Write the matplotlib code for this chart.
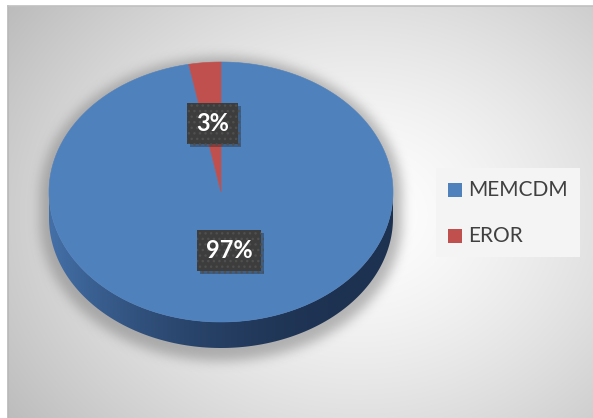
import numpy as np
import matplotlib.pyplot as plt
from matplotlib.colors import to_rgb
from matplotlib.patches import Polygon, Rectangle
import matplotlib.patheffects as pe

labels = ['MEMCDM', 'EROR']
values = [97, 3]
colors = ['#4F81BD', '#C0504D']
side_light = ['#4470A8', '#A34440']
side_dark = ['#1D3150', '#5E2422']

W, H = 593, 418
cx, cy, rx, ry, depth = 221, 192, 172, 130, 26

plt.rcParams['font.family'] = ['Lato', 'DejaVu Sans']

fig = plt.figure(figsize=(W / 100, H / 100), dpi=100)
ax = fig.add_axes([0, 0, 1, 1])
ax.set_xlim(0, W)
ax.set_ylim(H, 0)
ax.axis('off')

# radial grey background of the chart area
x0, y0 = 8, 6
yy, xx = np.mgrid[y0:H, x0:W] + 0.5
d = np.sqrt(((xx - 360) / 330) ** 2 + ((yy - 215) / 270) ** 2)
g = (255 - 46 * np.clip(d, 0, 1.5) ** 1.4) / 255
bg = np.dstack([g, g, g])
ax.imshow(bg, extent=[x0, W, H, y0], zorder=0, interpolation='bilinear')
ax.plot([x0, x0], [y0, H], color='#b8b8b8', lw=1.2, zorder=1)
ax.plot([x0, W], [y0, y0], color='#c0c0c0', lw=1.2, zorder=1)

# soft shadow under the cylinder
grow = 9
u = np.clip((xx - cx) / (rx + grow), -1, 1)
half = (ry + grow) * np.sqrt(1 - u ** 2)
inside = (np.abs(xx - cx) <= rx + grow) & (yy >= cy - half) & (yy <= cy + half + depth)
a = inside.astype(float)
k = np.ones(11) / 11
for _ in range(3):
    a = np.apply_along_axis(lambda v: np.convolve(v, k, mode='same'), 0, a)
    a = np.apply_along_axis(lambda v: np.convolve(v, k, mode='same'), 1, a)
shadow = np.zeros(a.shape + (4,))
shadow[..., :3] = 0.5
shadow[..., 3] = 0.55 * a
ax.imshow(shadow, extent=[x0, W, H + 4, y0 + 4], zorder=2, interpolation='bilinear')


def pt(t):
    t = np.radians(t)
    return cx + rx * np.sin(t), cy - ry * np.cos(t)


# slice angles, clockwise from 12 o'clock
fr = np.array(values, float) / sum(values)
ends = np.cumsum(fr) * 360
starts = ends - fr * 360

# front wall of the disc: horizontal shading clipped to each slice's wall
for i in range(len(values)):
    lo, hi = max(starts[i], 90), min(ends[i], 270)
    if hi <= lo:
        continue
    ts = np.linspace(lo, hi, 200)
    xs, ys = pt(ts)
    wall = list(zip(xs, ys)) + list(zip(xs[::-1], ys[::-1] + depth))
    clip = Polygon(wall, closed=True, fc='none', ec='none')
    ax.add_patch(clip)
    gx = np.linspace(cx - rx, cx + rx, 400)
    f = np.clip(0.5 - 0.5 * (gx - cx) / rx, 0, 1) ** 2.2
    c1, c2 = np.array(to_rgb(side_light[i])), np.array(to_rgb(side_dark[i]))
    strip = (c2[None, :] + (c1 - c2)[None, :] * f[:, None])[None, :, :]
    im = ax.imshow(strip, extent=[cx - rx, cx + rx, cy + ry + depth + 2, cy - 2],
                   aspect='auto', zorder=3, interpolation='bilinear')
    im.set_clip_path(clip)

# top face
for i in range(len(values)):
    ts = np.linspace(starts[i], ends[i], max(int(ends[i] - starts[i]) * 2, 4))
    xs, ys = pt(ts)
    verts = [(cx, cy)] + list(zip(xs, ys))
    ax.add_patch(Polygon(verts, closed=True, fc=colors[i], ec=colors[i], lw=0.4, zorder=4))

# percentage labels
for i in range(len(values)):
    mid = (starts[i] + ends[i]) / 2
    t = np.radians(mid)
    lx, ly = cx + 0.5 * rx * np.sin(t), cy - 0.49 * ry * np.cos(t) - 5
    txt = ax.text(lx, ly, f'{values[i]}%', ha='center', va='center', color='white',
                  fontsize=17, fontweight='bold', zorder=6,
                  bbox=dict(boxstyle='square,pad=0.38', fc='#3d3d3d', ec='#4f4f4f',
                            lw=0, hatch='...'))
    txt.get_bbox_patch().set_path_effects(
        [pe.SimplePatchShadow(offset=(2, -2), shadow_rgbFace='#1a1a1a', alpha=0.35), pe.Normal()])

# legend
ax.add_patch(Rectangle((436, 168), 144, 89, fc='#f4f4f4', ec='none', zorder=5))
for i, lab in enumerate(labels):
    yc = 190 + i * 46
    ax.add_patch(Rectangle((448, yc - 7), 14, 14, fc=colors[i], ec='none', zorder=6))
    ax.text(468, yc, lab, ha='left', va='center', color='#404040', fontsize=15, zorder=6)

fig.savefig('out.png', dpi=100)
